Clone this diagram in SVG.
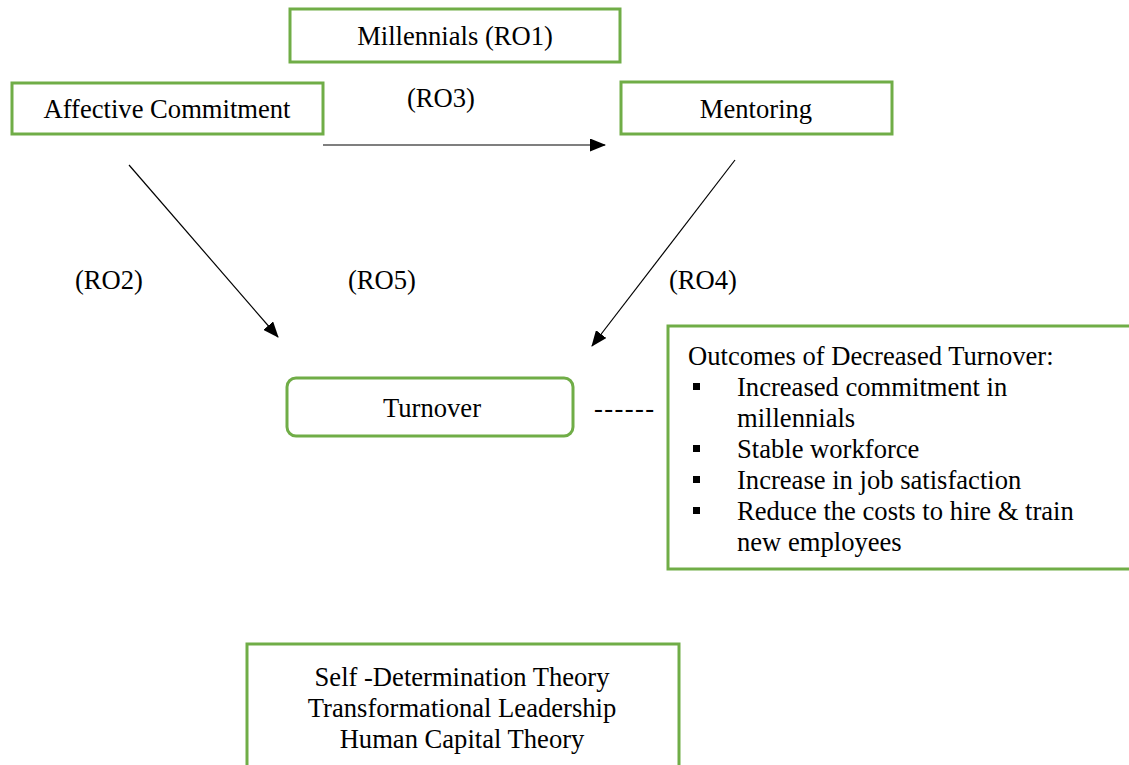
<svg xmlns="http://www.w3.org/2000/svg" width="1129" height="765" viewBox="0 0 1129 765">
<style>
.box{fill:#fff;stroke:#70AD47;stroke-width:3}
text{font-family:"Liberation Serif","Times New Roman",serif;font-size:26.6px;fill:#000}
.c{text-anchor:middle}
.conn line{stroke:#000;stroke-width:1.2}
</style>
<defs>
<marker id="ah" markerWidth="16" markerHeight="13" refX="15" refY="6.5" orient="auto" markerUnits="userSpaceOnUse">
<path d="M0,0 L16,6.5 L0,13 Z" fill="#000"/>
</marker>
</defs>
<rect width="1129" height="765" fill="#fff"/>
<g id="millennials"><rect class="box" x="290" y="9" width="330" height="53"/><text class="c" x="455" y="45">Millennials (RO1)</text></g>
<g id="affective"><rect class="box" x="12" y="83" width="311" height="51"/><text class="c" x="167" y="118">Affective Commitment</text></g>
<g id="mentoring"><rect class="box" x="621" y="82" width="271" height="52"/><text class="c" x="756" y="118">Mentoring</text></g>
<g id="turnover"><rect class="box" x="287" y="378" width="286" height="58" rx="9"/><text class="c" x="432" y="417">Turnover</text></g>
<g id="outcomes"><rect class="box" x="668" y="326" width="470" height="243"/>
<text x="688" y="365">Outcomes of Decreased Turnover:</text>
<rect x="693" y="383" width="7" height="7"/><text x="737" y="396">Increased commitment in</text>
<text x="737" y="427">millennials</text>
<rect x="693" y="445" width="7" height="7"/><text x="737" y="458">Stable workforce</text>
<rect x="693" y="476" width="7" height="7"/><text x="737" y="489">Increase in job satisfaction</text>
<rect x="693" y="507" width="7" height="7"/><text x="737" y="520">Reduce the costs to hire &amp; train</text>
<text x="737" y="551">new employees</text>
</g>
<g id="theories"><rect class="box" x="247" y="644" width="432" height="130"/>
<text class="c" x="462" y="686">Self -Determination Theory</text>
<text class="c" x="462" y="717">Transformational Leadership</text>
<text class="c" x="462" y="748">Human Capital Theory</text>
</g>
<g id="labels">
<text class="c" x="441" y="107">(RO3)</text>
<text class="c" x="109" y="289">(RO2)</text>
<text class="c" x="382" y="289">(RO5)</text>
<text class="c" x="703" y="289">(RO4)</text>
<text x="594" y="417" textLength="60">------</text>
</g>
<g class="conn" id="connectors">
<line x1="323" y1="145" x2="605" y2="145" marker-end="url(#ah)"/>
<line x1="129" y1="165" x2="278" y2="337" marker-end="url(#ah)"/>
<line x1="735" y1="160" x2="592" y2="346" marker-end="url(#ah)"/>
</g>
</svg>
